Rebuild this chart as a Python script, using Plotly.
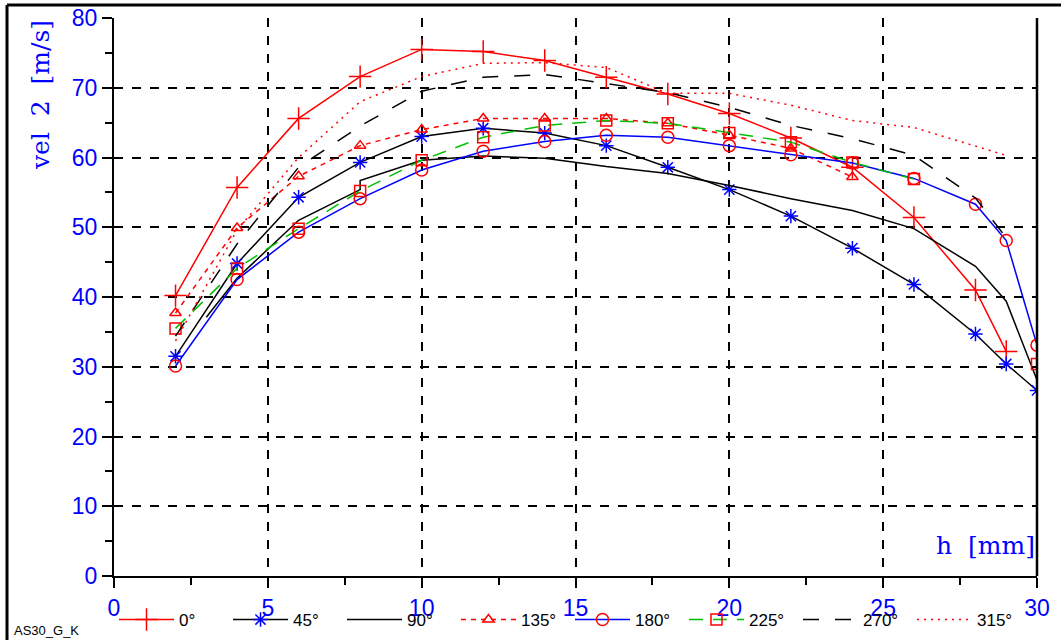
import plotly.graph_objects as go

# ---- data ----
h = [2, 4, 6, 8, 10, 12, 14, 16, 18, 20, 22, 24, 26, 28, 29, 30]

v0 = [40.2, 55.7, 65.6, 71.6, 75.5, 75.2, 73.9, 71.5, 69.1, 66.3, 62.8, 58.6, 51.4, 41.0, 32.2, None]
v45 = [31.5, 44.8, 54.3, 59.3, 63.0, 64.2, 63.5, 61.7, 58.6, 55.4, 51.6, 47.0, 41.8, 34.7, 30.4, 26.6]
h90 = [3, 4, 6, 8, 8, 10, 12, 14, 16, 18, 20, 22, 24, 26, 28, 29, 30]
v90 = [37.1, 42.7, 51.0, 55.4, 56.7, 59.6, 60.2, 59.9, 58.7, 57.7, 56.0, 54.1, 52.4, 49.8, 44.4, 39.4, 28.1]
v135 = [37.7, 49.9, 57.3, 61.7, 64.0, 65.6, 65.6, 65.6, 64.9, 63.2, 61.3, 57.2, None, None, None, None]
v180 = [30.1, 42.5, 49.3, 54.1, 58.2, 60.9, 62.3, 63.2, 62.9, 61.7, 60.4, 59.2, 57.0, 53.3, 48.1, 33.1]
v225 = [35.5, 44.1, 49.8, 55.2, 59.6, 62.9, 64.6, 65.3, 64.9, 63.5, 62.2, 59.3, 56.9, None, None, 30.4]
v270 = [34.4, 47.6, 58.6, 64.5, 69.5, 71.5, 71.9, 70.6, 69.3, 67.2, 64.6, 62.7, 60.3, 54.2, 48.5, None]
v315 = [33.7, 49.6, 60.0, 68.0, 71.6, 73.5, 73.6, 72.9, 69.2, 69.2, 67.5, 65.3, 64.3, 61.7, 60.3, None]

labels = ["0°", "45°", "90°", "135°", "180°", "225°", "270°", "315°"]

x_ticks = [0, 5, 10, 15, 20, 25, 30]
y_ticks = [0, 10, 20, 30, 40, 50, 60, 70, 80]

RED = "#ff0000"
BLUE = "#0000ff"
GREEN = "#00c000"
BLACK = "#000000"

fig = go.Figure()

def add(x, y, name, color, dash="solid", symbol=None, mcolor=None, msize=10):
    mode = "lines+markers" if symbol else "lines"
    kw = {}
    if symbol:
        kw["marker"] = dict(symbol=symbol, size=msize, color=mcolor or color,
                            line=dict(color=mcolor or color, width=1.5))
    fig.add_trace(go.Scatter(x=x, y=y, name=name, mode=mode,
                             line=dict(color=color, width=1.5, dash=dash),
                             connectgaps=False, **kw))

add(h, v0, labels[0], RED, "solid", "cross-thin-open", RED, 16)
add(h, v45, labels[1], BLACK, "solid", "asterisk-open", BLUE, 12)
add(h90, v90, labels[2], BLACK, "solid")
add(h, v135, labels[3], RED, "5px,5px", "triangle-up-open", RED, 10)
add(h, v180, labels[4], BLUE, "solid", "circle-open", RED, 12)
add(h, v225, labels[5], GREEN, "14px,10px", "square-open", RED, 11)
add(h, v270, labels[6], BLACK, "16px,16px")
add(h, v315, labels[7], RED, "2px,5px")

L, R, T, B = 114, 24, 18, 64
W, H = 1061, 640
pw, ph = W - L - R, H - T - B

fig.update_layout(
    width=W, height=H,
    margin=dict(l=L, r=R, t=T, b=B, autoexpand=False),
    plot_bgcolor="white", paper_bgcolor="white",
    showlegend=True,
    legend=dict(orientation="h", x=0.0, xanchor="left", y=-44 / ph, yanchor="middle",
                entrywidth=44, entrywidthmode="pixels", itemwidth=55,
                font=dict(family="Liberation Sans", size=17, color="black"),
                bgcolor="rgba(0,0,0,0)", tracegroupgap=0),
    font=dict(family="Liberation Sans"),
)

fig.update_xaxes(
    range=[0, 30], tickvals=x_ticks, showline=True, linecolor="black", linewidth=2,
    ticks="outside", ticklen=10, tickwidth=2, tickcolor="black",
    tickfont=dict(family="Liberation Sans", size=23, color=BLUE),
    showgrid=True, gridcolor="black", griddash="dash", gridwidth=1.5,
    zeroline=False,
    minor=dict(dtick=2.5, ticks="outside", ticklen=7, tickwidth=2, tickcolor="black", showgrid=False),
)
fig.update_yaxes(
    range=[0, 80], tickvals=y_ticks, showline=True, linecolor="black", linewidth=2,
    ticks="outside", ticklen=10, tickwidth=2, tickcolor="black",
    tickfont=dict(family="Liberation Sans", size=23, color=BLUE),
    showgrid=True, gridcolor="black", griddash="dash", gridwidth=1.5,
    zeroline=False,
    minor=dict(dtick=5, ticks="outside", ticklen=7, tickwidth=2, tickcolor="black", showgrid=False),
)

# right border of plot
fig.add_shape(type="line", xref="paper", yref="paper", x0=1, x1=1, y0=0, y1=1,
              line=dict(color="black", width=2.5))
# outer frame (left and top)
fx = (7 - L) / pw
fy = (H - B - 5) / ph
fb = -B / ph - 0.01
fig.add_shape(type="line", xref="paper", yref="paper", x0=fx, x1=fx, y0=fb, y1=fy,
              line=dict(color="black", width=3))
fig.add_shape(type="line", xref="paper", yref="paper", x0=fx, x1=1 + R / pw + 0.01, y0=fy, y1=fy,
              line=dict(color="black", width=3))

fig.add_annotation(text="vel  2  [m/s]", xref="paper", yref="paper",
                   x=(40 - L) / pw, y=(H - B - 95) / ph, textangle=-90, showarrow=False,
                   font=dict(family="DejaVu Serif", size=25, color=BLUE),
                   xanchor="center", yanchor="middle")
fig.add_annotation(text="h  [mm]", xref="paper", yref="paper",
                   x=1, y=(H - B - 545) / ph, showarrow=False,
                   font=dict(family="DejaVu Serif", size=25, color=BLUE),
                   xanchor="right", yanchor="middle")
fig.add_annotation(text="AS30_G_K", xref="paper", yref="paper",
                   x=(12 - L) / pw, y=(H - B - 630) / ph, showarrow=False,
                   font=dict(family="Liberation Sans", size=13, color="black"),
                   xanchor="left", yanchor="middle")

fig.write_html("out.html", config={"displayModeBar": False},
               post_script="document.body.style.margin='0';")
